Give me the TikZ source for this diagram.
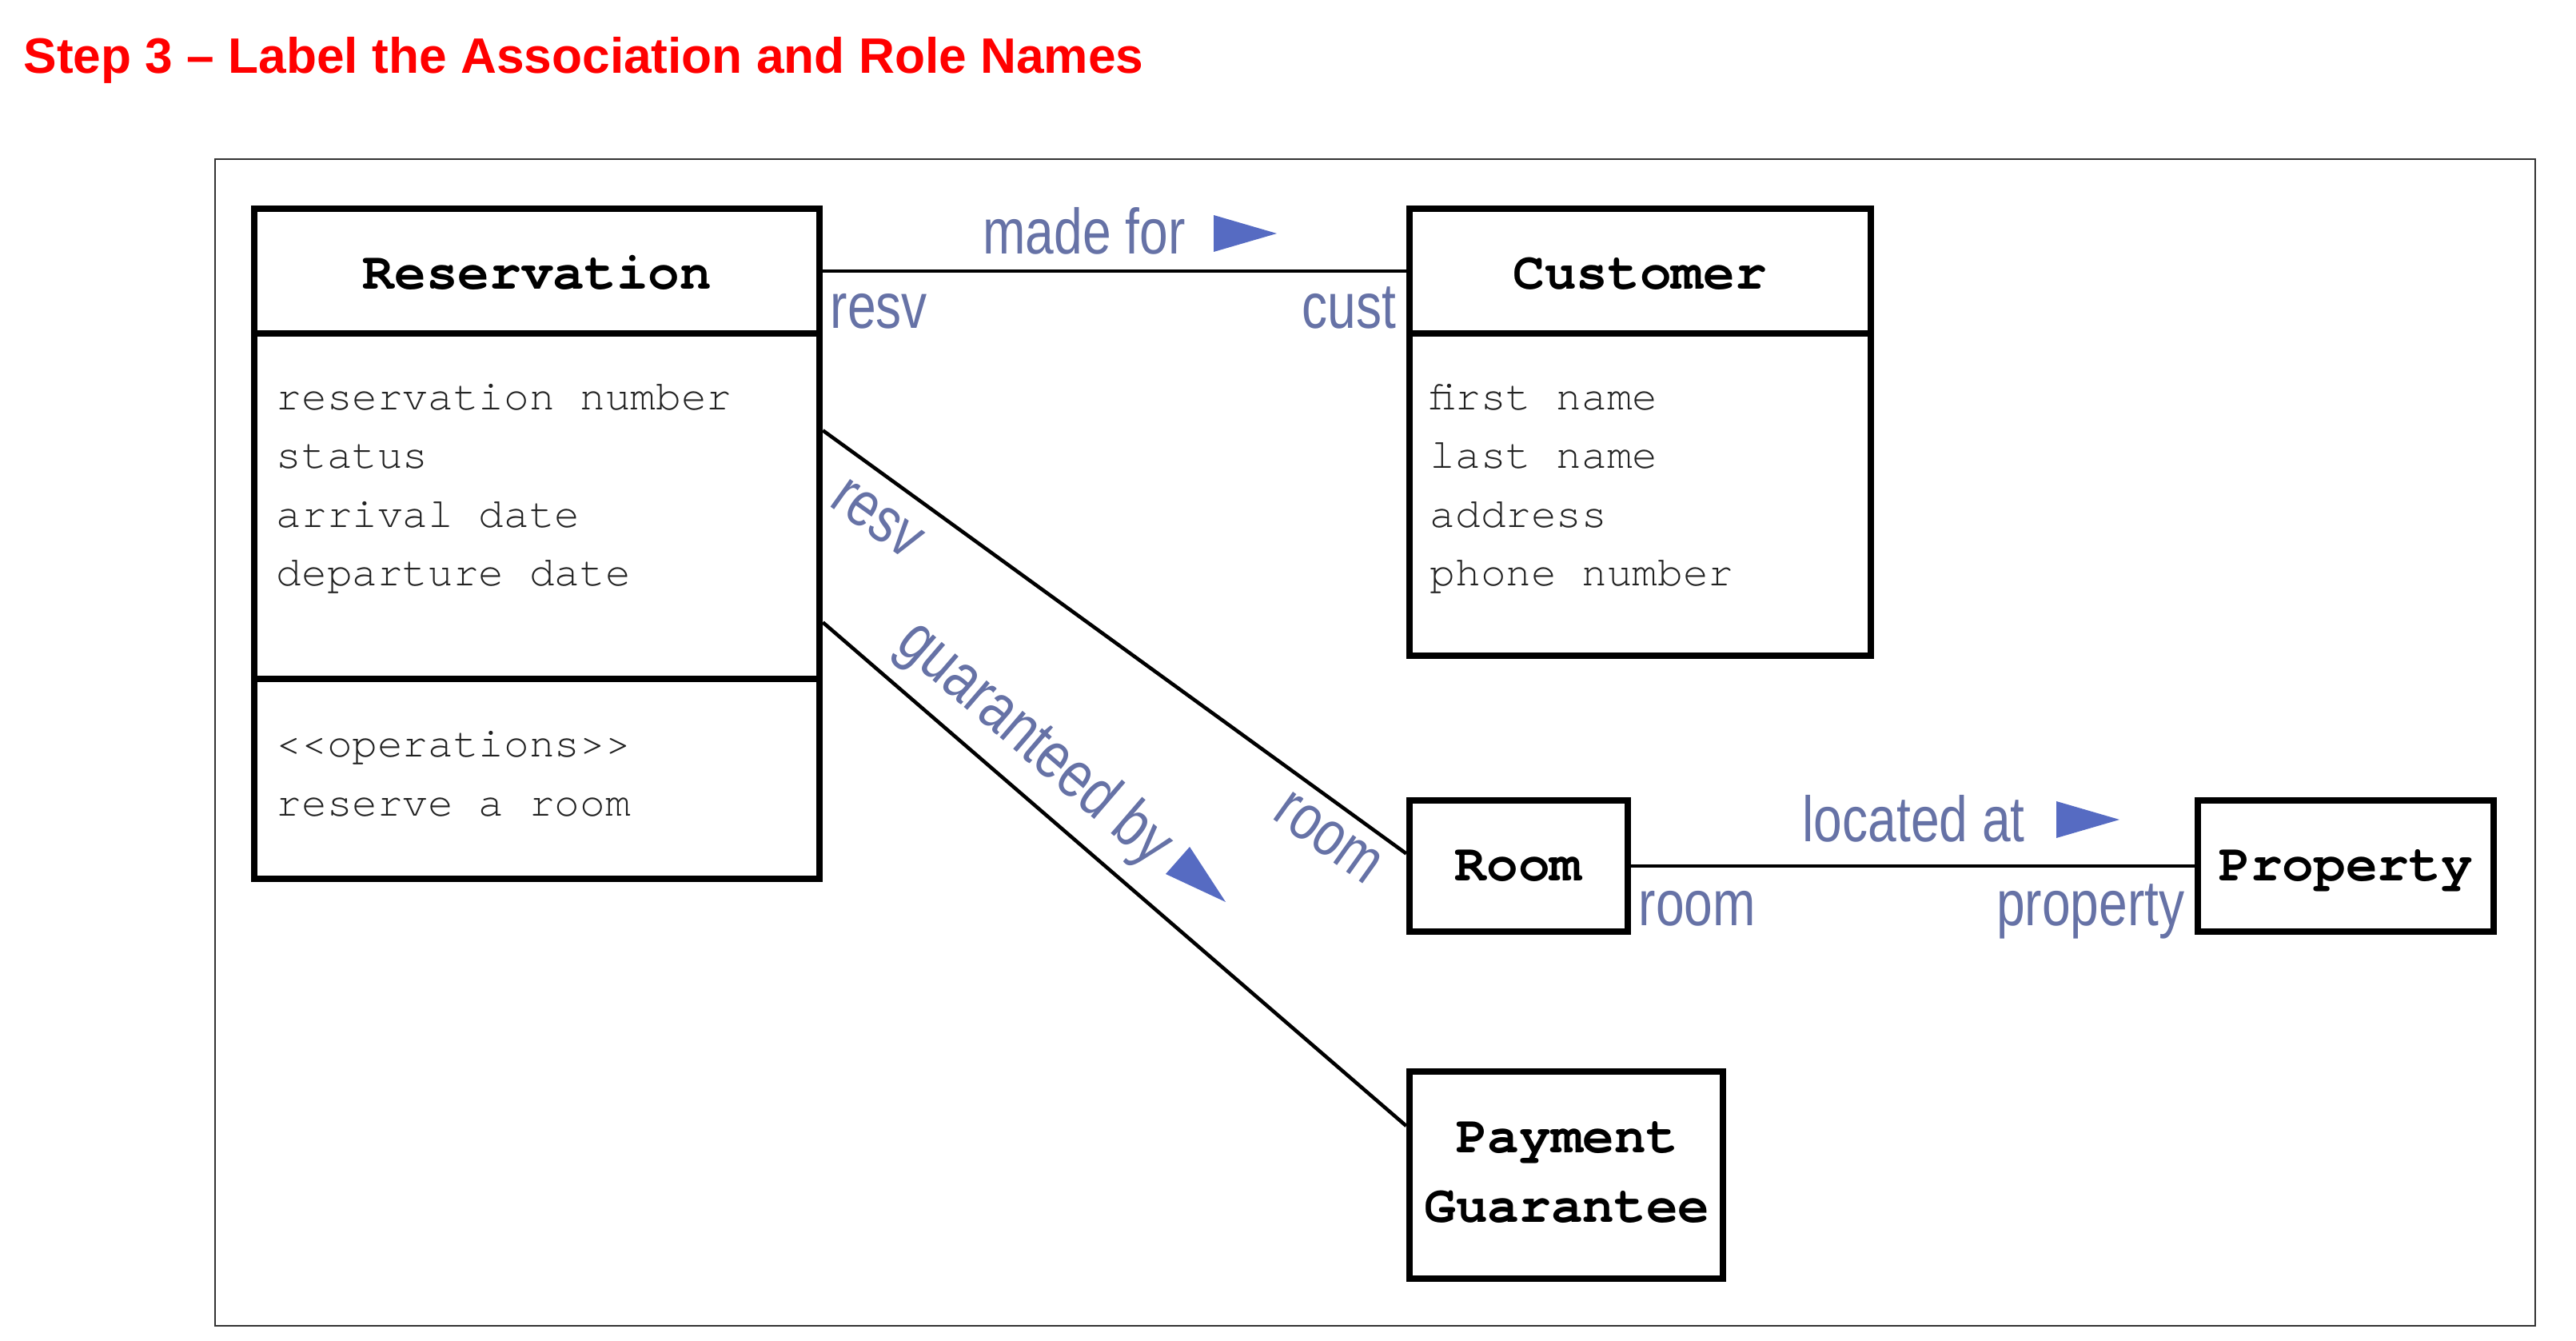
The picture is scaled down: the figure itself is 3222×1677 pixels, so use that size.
\documentclass[tikz,border=0pt]{standalone}
\usepackage{fontspec}
\setmainfont{Liberation Sans}
\newfontfamily\lblfont[FakeStretch=0.8]{Liberation Sans}
\newfontfamily\clsfont{TeX Gyre Cursor}
\usetikzlibrary{calc}
\definecolor{lblc}{HTML}{6672A6}
\definecolor{arrc}{HTML}{566BC2}
\definecolor{attrc}{HTML}{222222}
\definecolor{titlec}{HTML}{FF0000}
\definecolor{framec}{HTML}{333333}
\begin{document}
\begin{tikzpicture}[x=0.01cm,y=-0.01cm,
  box/.style={draw, line width=2.3pt, rectangle, inner sep=0pt},
  conn/.style={line width=1.3pt},
  cname/.style={font=\clsfont\bfseries\fontsize{18.8pt}{22pt}\selectfont, inner sep=0pt, anchor=base},
  attr/.style={font=\clsfont\fontsize{15pt}{20pt}\selectfont, text=attrc, anchor=base west, inner sep=0pt},
  lbl/.style={font=\lblfont\fontsize{22.8pt}{26pt}\selectfont, text=lblc, inner sep=0pt},
  tri/.style={fill=arrc},
]
\useasboundingbox (0,0) rectangle (3222,1677);
% title
\node[font=\bfseries\fontsize{17.7pt}{21pt}\selectfont, text=titlec, anchor=base west, inner sep=0pt] (title) at (29,92) {Step 3 -- Label the Association and Role Names};
% frame
\draw[framec, line width=0.7pt] (269,199) rectangle (3171,1658);
% Reservation
\node[box, minimum width=7.07cm, minimum height=1.56cm] (reshead) at (671.5,339) {};
\node[box, minimum width=7.07cm, minimum height=4.32cm] (resattr) at (671.5,633) {};
\node[box, minimum width=7.07cm, minimum height=2.50cm] (resops) at (671.5,974) {};
\node[cname] (resname) at (672,362) {Reservation};
\node[attr] (ra1) at (345,513) {reservation number};
\node[attr] (ra2) at (345,586) {status};
\node[attr] (ra3) at (345,660) {arrival date};
\node[attr] (ra4) at (345,733) {departure date};
\node[attr] (ro1) at (345,947) {<<operations>>};
\node[attr] (ro2) at (345,1021) {reserve a room};
% Customer
\node[box, minimum width=5.77cm, minimum height=1.56cm] (custhead) at (2051.5,339) {};
\node[box, minimum width=5.77cm, minimum height=4.03cm] (custattr) at (2051.5,618.5) {};
\node[cname] (custname) at (2051,362) {Customer};
\node[attr] (ca1) at (1788,513) {first name};
\node[attr] (ca2) at (1788,586) {last name};
\node[attr] (ca3) at (1788,660) {address};
\node[attr] (ca4) at (1788,733) {phone number};
% Room
\node[box, minimum width=2.73cm, minimum height=1.64cm] (room) at (1899.5,1083) {};
\node[cname] (roomname) at (1899,1101) {Room};
% Property
\node[box, minimum width=3.70cm, minimum height=1.64cm] (prop) at (2934,1083) {};
\node[cname] (propname) at (2934,1101) {Property};
% Payment Guarantee
\node[box, minimum width=3.92cm, minimum height=2.59cm] (pay) at (1959,1469.5) {};
\node[cname] (payname1) at (1960,1441) {Payment};
\node[cname] (payname2) at (1960,1528) {Guarantee};
% connectors
\draw[conn] (reshead.east) -- (custhead.west);
\draw[conn] ($(resattr.north east)!0.285!(resattr.south east)$) -- ($(room.north west)!0.41!(room.south west)$);
\draw[conn] ($(resattr.north east)!0.83!(resattr.south east)$) -- ($(pay.north west)!0.27!(pay.south west)$);
\draw[conn] (room.east) -- (prop.west);
% labels: made for
\node[lbl, anchor=base] (madefor) at (1356,318) {made for};
\fill[tri] (1518,269) -- (1597,292) -- (1518,315) -- cycle;
\node[lbl, anchor=base west] (resv1) at (1038,411) {resv};
\node[lbl, anchor=base east] (cust1) at (1747,411) {cust};
% located at
\node[lbl, anchor=base west] (locat) at (2254,1052) {located at};
\fill[tri] (2572,1002) -- (2651,1025) -- (2572,1048) -- cycle;
\node[lbl, anchor=base west] (room1) at (2049,1157) {room};
\node[lbl, anchor=base east] (prop1) at (2733,1157) {property};
% diagonals
\node[lbl, rotate=-35.5] (resv2) at (1097,649) {resv};
\node[lbl, rotate=-35.5] (room2) at (1661,1048) {room};
\node[lbl, rotate=-40.7, font=\lblfont\fontsize{23.5pt}{26pt}\selectfont] (guar) at (1293,931) {guaranteed by};
\fill[tri] (1458,1093) -- (1533,1128) -- (1488,1059) -- cycle;
\end{tikzpicture}
\end{document}
